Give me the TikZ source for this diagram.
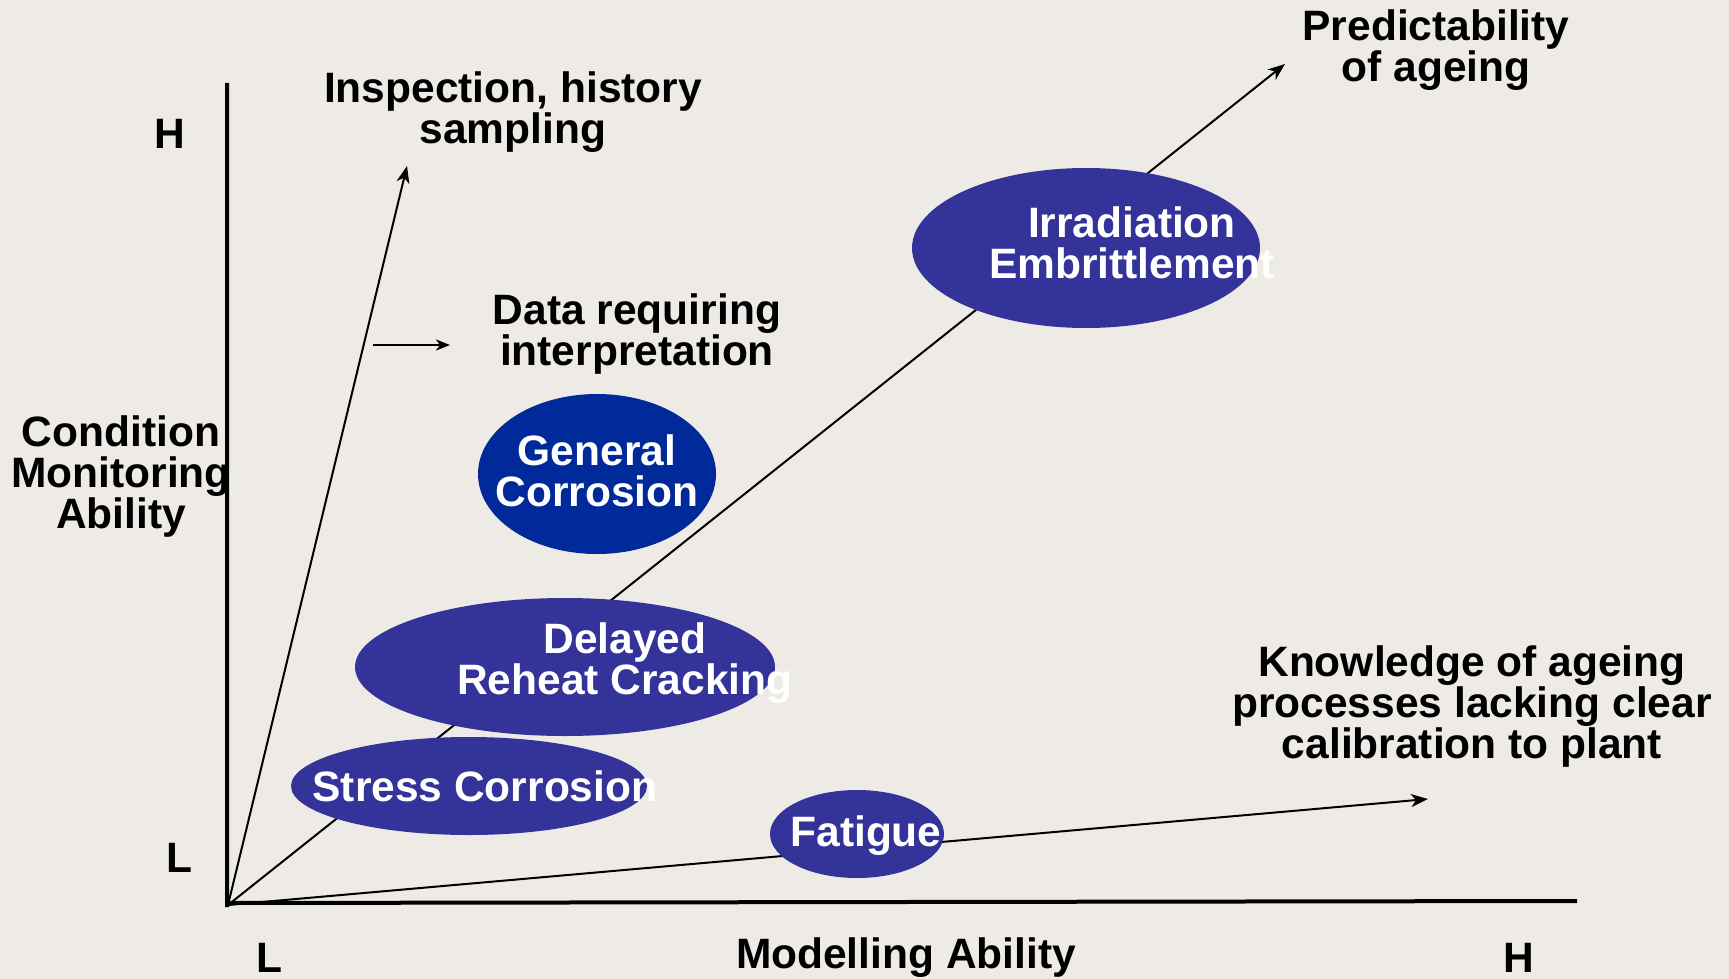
\documentclass[tikz,border=0pt]{standalone}
\usepackage{fontspec}
\setmainfont{Liberation Sans}
\usetikzlibrary{shapes.geometric,arrows.meta}

\definecolor{paper}{RGB}{238,235,231}
\definecolor{blob}{RGB}{51,51,153}
\definecolor{deepblob}{RGB}{0,41,153}

\tikzset{
	label text/.style={font=\bfseries\fontsize{42.5}{41}\selectfont,align=center,inner sep=0pt},
	blob/.style={ellipse,fill=blob,inner sep=0pt},
	tip/.style={-{Stealth[length=17pt,width=13pt,inset=5pt]},line width=2pt}
}

\begin{document}
\begin{tikzpicture}[x=1pt,y=-1pt]
	\fill[paper] (0,0) rectangle (1729,979);
	\useasboundingbox (0,0) rectangle (1729,979);
	
	% axes and trend lines
	\coordinate (O) at (228,905);
	\coordinate (top) at (227,83);
	\coordinate (right) at (1577,901);
	\coordinate (insp) at (407,166);
	\coordinate (pred) at (1285,64);
	\coordinate (know) at (1428,799);
	\coordinate (d1) at (373,345);
	\coordinate (d2) at (450,345);
	
	\begin{scope}
		\draw[line width=4pt] (top) -- (227,907) (225,903) -- (right);
		\draw[tip] (O) -- (insp);
		\draw[tip] (O) -- (pred);
		\draw[tip] (O) -- (know);
		\draw[-{Stealth[length=14pt,width=11pt,inset=4pt]},line width=2pt] (d1) -- (d2);
	\end{scope}
	
	% ageing mechanisms
	\begin{scope}[every node/.style={blob}]
		\node[minimum width=348pt,minimum height=160pt] (irr) at (1086,248) {};
		\node[fill=deepblob,minimum width=238pt,minimum height=160pt] (gen) at (597,474) {};
		\node[minimum width=420pt,minimum height=138pt] (dly) at (565,667) {};
		\node[minimum width=356pt,minimum height=98pt] (scc) at (469,786) {};
		\node[minimum width=174pt,minimum height=88pt] (fat) at (857,834) {};
	\end{scope}
	
	\begin{scope}[every node/.style={label text,text=white}]
		\node (irrtxt) at (1132,243) {Irradiation\\Embrittlement};
		\node (gentxt) at (597,471) {General\\Corrosion};
		\node (dlytxt) at (625,663) {Delayed\\Reheat Cracking};
		\node (scctxt) at (485,786) {Stress Corrosion};
		\node (fattxt) at (866,836) {Fatigue};
	\end{scope}
	
	% axis labels and captions
	\begin{scope}[every node/.style={label text}]
		\node (hi) at (170,134) {H};
		\node (lo) at (179,858) {L};
		\node (lox) at (269,958) {L};
		\node (hix) at (1519,958) {H};
		\node (xlab) at (906,958) {Modelling Ability};
		\node (ylab) at (121,477) {Condition\\Monitoring\\Ability};
		\node (insptxt) at (513,112) {Inspection, history\\sampling};
		\node (predtxt) at (1436,50) {Predictability\\of ageing};
		\node (datatxt) at (637,334) {Data requiring\\interpretation};
		\node (knowtxt) at (1472,707) {Knowledge of ageing\\processes lacking clear\\calibration to plant};
	\end{scope}
\end{tikzpicture}
\end{document}
